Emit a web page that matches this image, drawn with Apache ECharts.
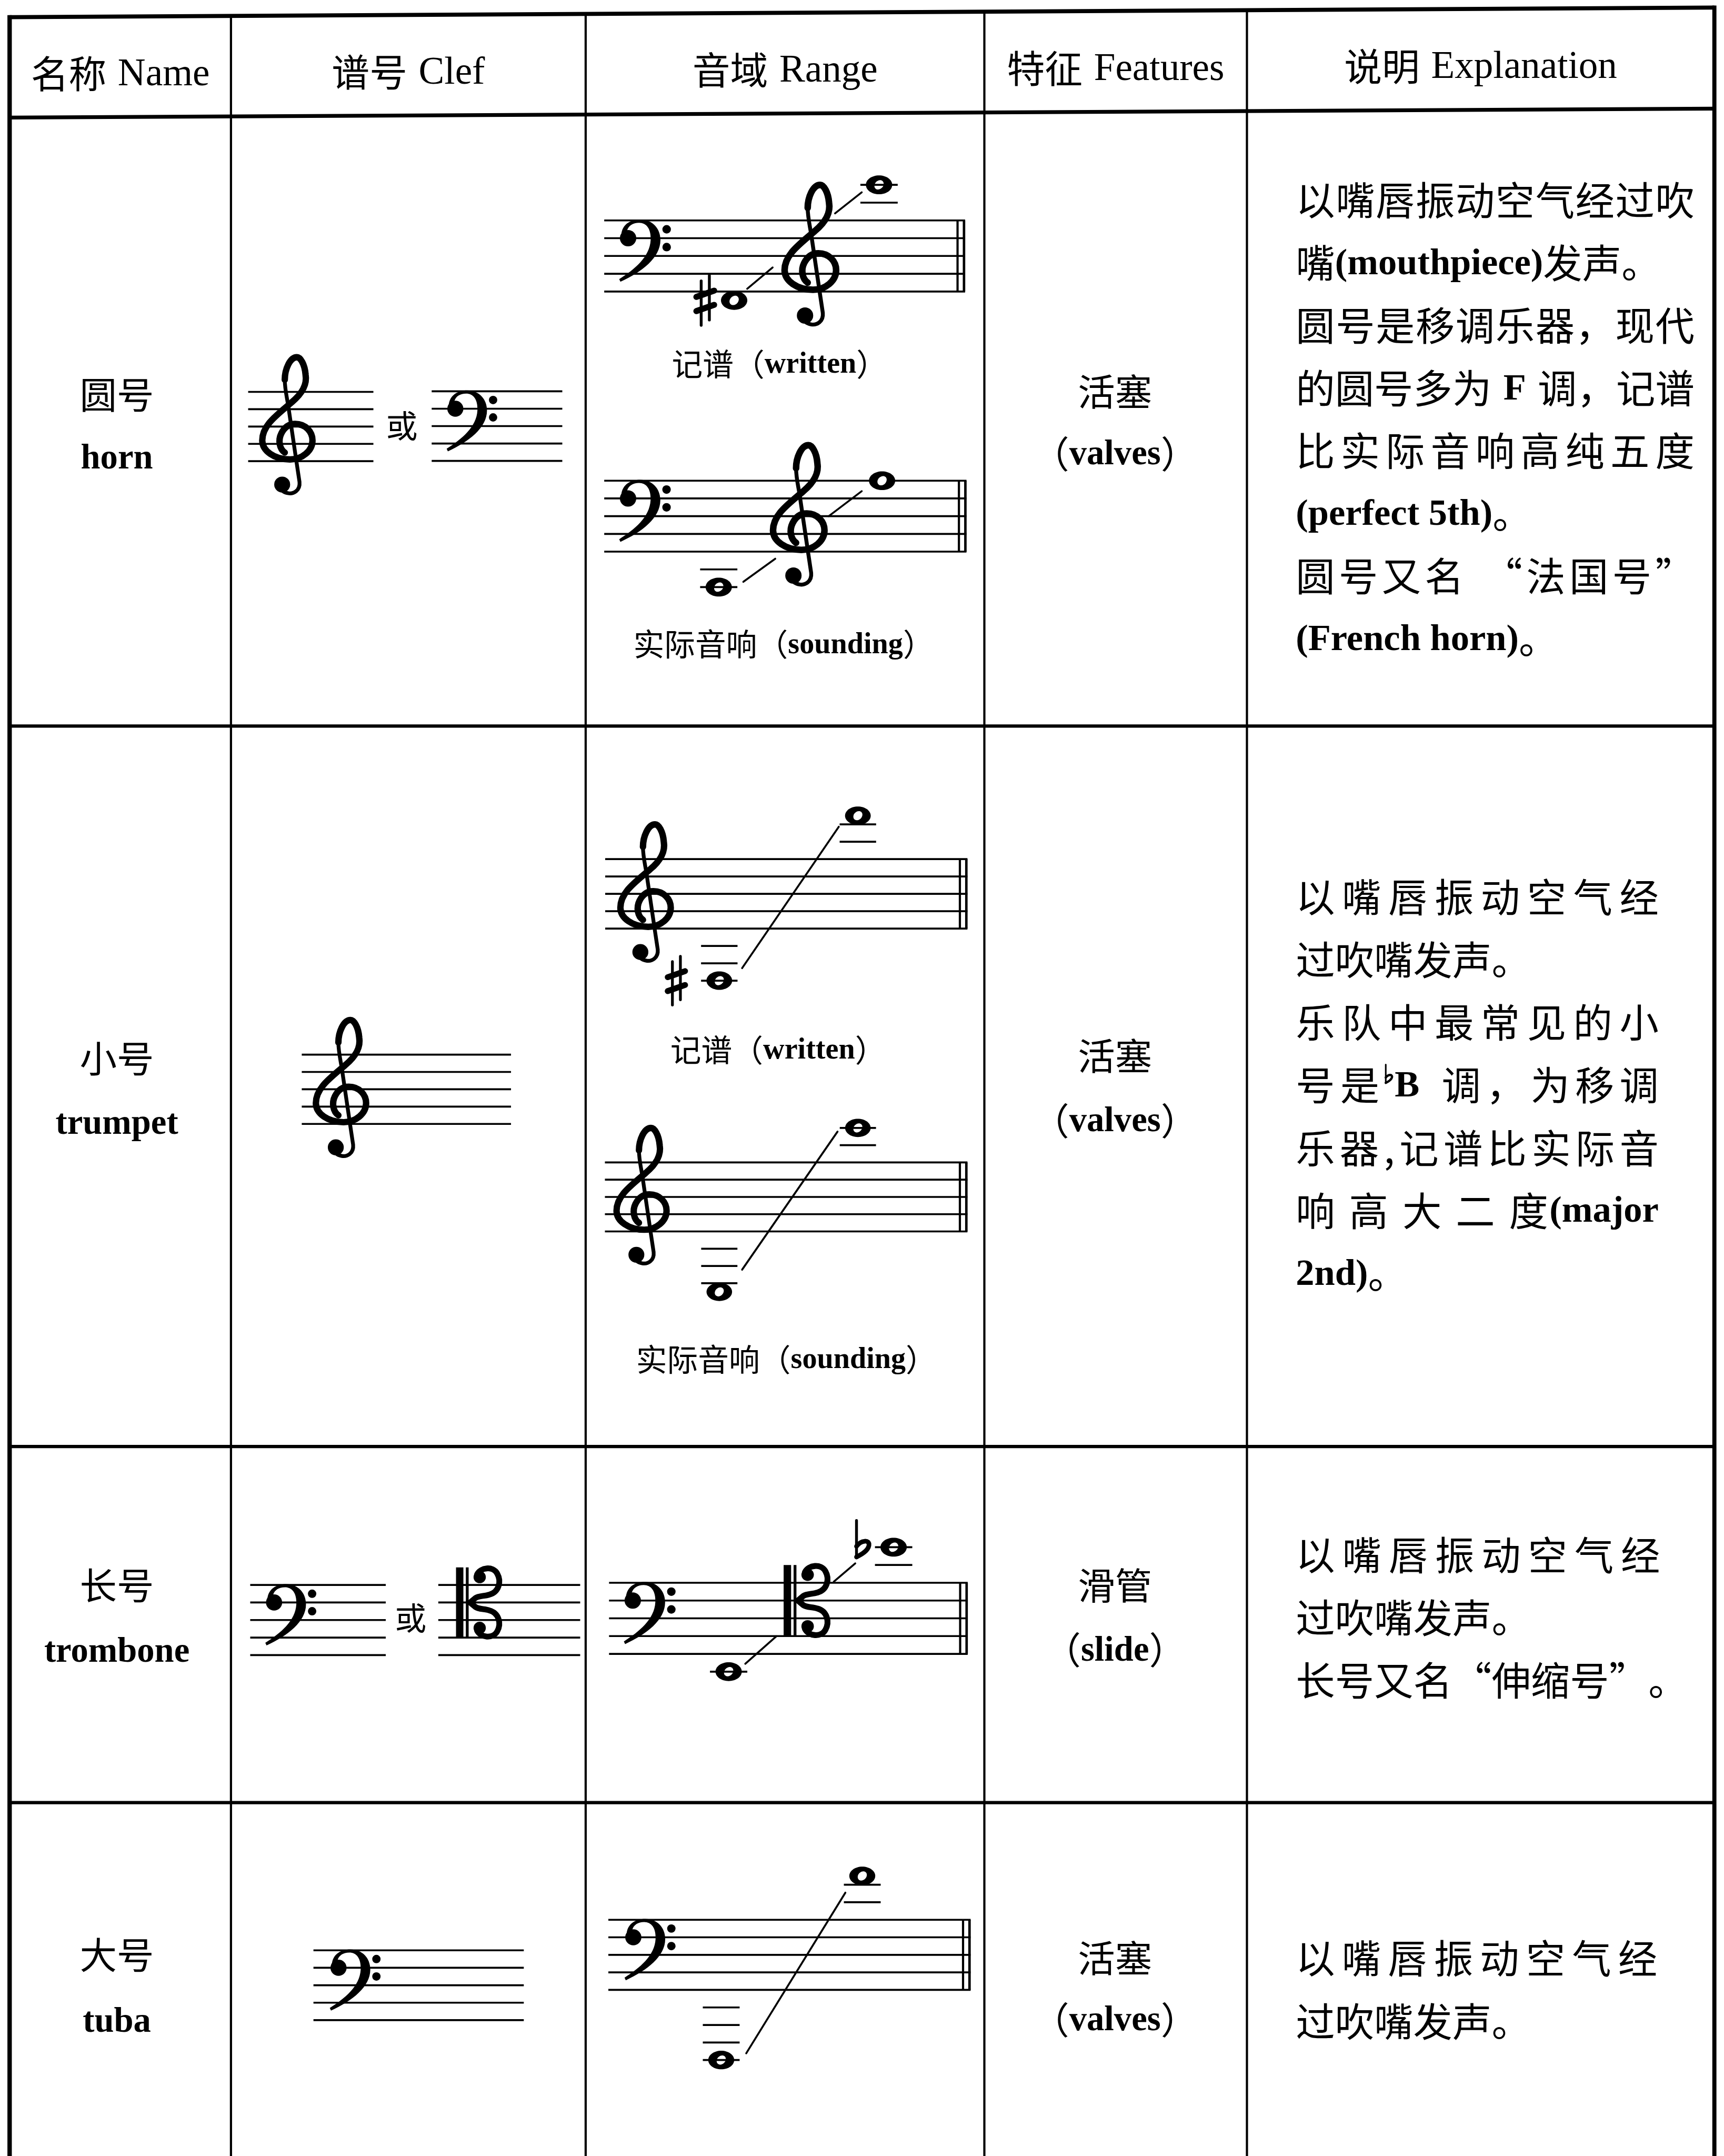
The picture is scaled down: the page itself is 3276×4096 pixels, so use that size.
<!DOCTYPE html>
<html>
<head>
<meta charset="utf-8">
<script src="https://cdn.jsdelivr.net/npm/echarts@6.0.0/dist/echarts.min.js"></script>
<style>
html,body{margin:0;padding:0;background:#ffffff;}
#chart{width:3276px;height:4096px;}
</style>
</head>
<body>
<div id="chart"></div>
<script>
// ======================= DATA =======================
const headerCN = ['名称', '谱号', '音域', '特征', '说明'];
const headerEN = ['Name', 'Clef', 'Range', 'Features', 'Explanation'];
const instrumentCN = ['圆号', '小号', '长号', '大号'];
const instrumentEN = ['horn', 'trumpet', 'trombone', 'tuba'];
const featureCN = ['活塞', '活塞', '滑管', '活塞'];
const featureEN = ['valves', 'valves', 'slide', 'valves'];
const orWord = '或';
const clefSets = [['treble', 'bass'], ['treble'], ['bass', 'tenor'], ['bass']];
const rangeLabelCN = ['记谱', '实际音响'];
const rangeLabelEN = ['written', 'sounding'];
const explanationHorn = [
  ['以嘴唇振动空气经过吹', '嘴(mouthpiece)发声。'],
  ['圆号是移调乐器，现代', '的圆号多为 F 调，记谱', '比实际音响高纯五度', '(perfect 5th)。'],
  ['圆号又名 “法国号”', '(French horn)。']
];
const explanationTrumpet = [
  ['以嘴唇振动空气经', '过吹嘴发声。'],
  ['乐队中最常见的小', '号是♭B 调，为移调', '乐器,记谱比实际音', '响 高 大 二 度(major', '2nd)。']
];
const explanationTrombone = [
  ['以嘴唇振动空气经', '过吹嘴发声。'],
  ['长号又名“伸缩号”。']
];
const explanationTuba = [
  ['以嘴唇振动空气经', '过吹嘴发声。']
];
const explanations = [explanationHorn, explanationTrumpet, explanationTrombone, explanationTuba];

// Range notation: staff step = half staff-spaces below the top staff line
const rangeRow   = [0, 0, 1, 1, 2, 3];
const rangeLabel = [0, 1, 0, 1, -1, -1];
const rangeClefs = [['bass', 'treble'], ['bass', 'treble'], ['treble'], ['treble'], ['bass', 'tenor'], ['bass']];
const lowStep    = [9, 12, 14, 15, 10, 16];
const lowAcc     = ['sharp', '', 'sharp', '', '', ''];
const highStep   = [-4, 0, -5, -4, -4, -5];
const highAcc    = ['', '', '', '', 'flat', ''];

// ======================= LAYOUT (reference units, 1254 x 1568 page) =======================
const PAGE_W = 1254, PAGE_H = 1568;
const COLS = [7, 168, 426, 716, 907, 1247];
const ROW_LINES = [528, 1052, 1311];
const topY = x => 12.5 - (x - 7) * 7 / 1240;
const hdrY = x => 85.5 - (x - 7) * 6.5 / 1240;
const NAME_X = 85, FEAT_X = 811;
const NAME_Y = [[287, 333], [770, 817], [1153, 1201], [1422, 1470]];
const FEAT_Y = [[285, 330], [768, 815], [1153, 1200], [1424, 1469]];
const EXPL_X = 942.5, EXPL_W = [290, 264, 265, 263], EXPL_Y0 = [145.6, 652.6, 1131, 1424.5], EXPL_DY = 45.6;
const CLEF_STAVES = [
  [{x0: 180.5, x1: 271.6, top: 285, sp: 12.6, cx: 189.5}, {x0: 314, x1: 409, top: 284.6, sp: 12.65, cx: 324.5}],
  [{x0: 219.5, x1: 371.7, top: 767, sp: 12.6, cx: 228.5}],
  [{x0: 182, x1: 280.6, top: 1152.7, sp: 12.75, cx: 192.6}, {x0: 318.8, x1: 422, top: 1152.7, sp: 12.75, cx: 331.7}],
  [{x0: 228, x1: 381, top: 1418.4, sp: 12.7, cx: 239.5}]
];
const OR_POS = [[292.3, 309.7], null, [298.7, 1176.8], null];
const RANGE_STAVES = [
  {x0: 439.5, x1: 702, top: 160.3, sp: 12.93, clefX: [450, 569.4], lowX: 534, accX: 513, highX: 639.4,
   gliss: [[543.5, 7.69, 562, 5.29], [607.4, -0.79, 626.8, -3.16]], label: [567, 264.6]},
  {x0: 439.5, x1: 703, top: 349.6, sp: 12.9, clefX: [450, 561], lowX: 522.8, highX: 641.6,
   gliss: [[540.7, 11.4, 563.9, 8.8], [602.8, 4.0, 626.8, 1.18]], label: [570, 468.5]},
  {x0: 440.2, x1: 703.7, top: 624.8, sp: 12.63, clefX: [450], lowX: 523.2, accX: 492, highX: 624,
   gliss: [[539.8, 12.56, 610.1, -3.72]], label: [566, 763.4]},
  {x0: 440, x1: 703.7, top: 845.4, sp: 12.55, clefX: [447.2], lowX: 523.2, highX: 624,
   gliss: [[539.8, 12.43, 609.2, -3.57]], label: [572, 988.6]},
  {x0: 443, x1: 703.9, top: 1151.1, sp: 12.93, clefX: [453.4, 570], lowX: 530, highX: 650, accX: 623,
   gliss: [[542.1, 9.11, 564.7, 6.02], [606.5, -0.12, 622.1, -2.18]]},
  {x0: 442.5, x1: 706, top: 1396.2, sp: 12.75, clefX: [453.9], lowX: 524.6, highX: 627.2,
   gliss: [[542.8, 15.23, 614.9, -3.09]]}
];

// ======================= GLYPHS (staff space = 10 units, top line y = 0) =======================
const TREBLE_BODY = 'M14,35 C11,33 10,28 12,24 C14,20 17,18.5 20,18.5 C26,18.5 30,23 30,28 C30,34 24,39 17,39 C8,39 1,34 1,28 C1,19 10,13 18,6 C24,1 27,-4 26,-10 C25.5,-16 23,-20 21,-20 C17,-20 14,-13 14,-7';
const TREBLE_STEM = 'M14,-7 C14,-2 15,2 16,8 L21,42 L22.5,52 C23,57 19,59 16,58.5 C13,58 11,56 11,54';
const BASS_BODY = 'M1.5,8 C2,2 7,-0.5 12,-0.5 C19,-0.5 23.5,4.5 23.5,11 C23.5,21 13,29 1,34.5 L0.3,33 C9,27.5 17.5,20.5 18,11 C18.3,4.5 15.5,1.3 11.5,1.3 C8,1.3 5.5,3 4.8,5.5 Z';
const TENOR_CURVE = 'M12,-6 C14,-10 21,-11 23.5,-6.5 C26,-2 24.5,4 19,5.5 C16,6.5 13,6 11,7.5 L8,10 L11,12.5 C13,14 16,13.5 19,14.5 C24.5,16 26,22 23.5,26.5 C21,31 14,30 12,26';
const SHARP_STEMS = 'M-2.3,-11 L-2.3,14 M2.3,-14 L2.3,11';
const SHARP_BARS = 'M-5,-2 L5,-5.5 M-5,6 L5,2.5';
const FLAT_STEM = 'M0,-15 L0,5.5';
const FLAT_BOWL = 'M0,-0.5 C2.5,-4 7.5,-4.5 7,-1 C6.5,2 3,4 0,5.5';

// ======================= BUILD MARKS =======================
const W = 3276, H = 4096;
const K = W / PAGE_W;
const CJK = {w: 'normal', fam: '"Noto Sans CJK SC", sans-serif'};
const LAT = {w: 'bold', fam: '"Liberation Serif", "DejaVu Serif", serif'};
const LAT_N = {w: 'normal', fam: '"Liberation Serif", "DejaVu Serif", serif'};
const fontOf = (f, px) => f.w + ' ' + px.toFixed(2) + 'px ' + f.fam;
const mctx = document.createElement('canvas').getContext('2d');
function measure(t, f, size) { mctx.font = fontOf(f, size * K); return mctx.measureText(t).width / K; }

const marks = [];
function line(x, y, x2, y2, lw, cap) { marks.push({kind: 'line', x, y, x2, y2, lw, cap}); }
function text(x, y, t, f, size) { marks.push({kind: 'text', x, y, text: t, f, size}); }
function glyph(x, y, d, s, lw, fill) { marks.push({kind: 'path', x, y, d, s, lw, fill}); }
function circle(x, y, r) { marks.push({kind: 'circle', x, y, r}); }
function ellipse(x, y, rx, ry, rot, color) { marks.push({kind: 'ellipse', x, y, rx, ry, rot, color}); }
function rect(x, y, x2, y2) { marks.push({kind: 'rect', x, y, x2, y2}); }

function layoutLine(str, x, y, o) {
  const latF = o.latF || LAT;
  const toks = str.match(/♭?[A-Za-z0-9().]+(?: [A-Za-z0-9().]+)*|./g);
  const items = toks.map(t => {
    if (t === ' ') return {t, w: 0.3 * o.cjk, kind: 'sp'};
    if (/[A-Za-z0-9()]/.test(t)) {
      if (t[0] === '♭') {
        const r = t.slice(1), fw = 0.27 * o.lat;
        return {t: r, w: fw + measure(r, latF, o.lat), kind: 'flat', fw};
      }
      return {t, w: measure(t, latF, o.lat), kind: 'lat'};
    }
    return {t, w: measure(t, CJK, o.cjk), kind: 'cjk'};
  });
  const natural = items.reduce((a, b) => a + b.w, 0);
  const gap = (o.width && items.length > 1) ? (o.width - natural) / (items.length - 1) : 0;
  let cx = o.align === 'center' ? x - natural / 2 : x;
  items.forEach(it => {
    if (it.kind === 'cjk') text(cx, y, it.t, CJK, o.cjk);
    else if (it.kind === 'lat') text(cx, y + 0.04 * o.lat, it.t, latF, o.lat);
    else if (it.kind === 'flat') {
      const s = 0.024 * o.lat, yc = y - 0.2 * o.lat;
      glyph(cx + 0.03 * o.lat, yc, FLAT_STEM, s, 1.8, false);
      glyph(cx + 0.03 * o.lat, yc, FLAT_BOWL, s, 2.6, false);
      text(cx + it.fw, y + 0.04 * o.lat, it.t, latF, o.lat);
    }
    cx += it.w + gap;
  });
}

function staffLines(st) {
  for (let i = 0; i < 5; i++) line(st.x0, st.top + i * st.sp, st.x1, st.top + i * st.sp, 1.4);
}
function drawClef(type, x, top, sp) {
  const s = sp / 10;
  if (type === 'treble') {
    glyph(x, top, TREBLE_BODY, s, 3.7, false);
    glyph(x, top, TREBLE_STEM, s, 2.2, false);
    circle(x + 12.5 * s, top + 53.5 * s, 4.6 * s);
  } else if (type === 'bass') {
    glyph(x, top, BASS_BODY, s, 0, true);
    circle(x + 5.3 * s, top + 10 * s, 4.6 * s);
    circle(x + 27 * s, top + 5 * s, 2.4 * s);
    circle(x + 27 * s, top + 15 * s, 2.4 * s);
  } else if (type === 'tenor') {
    rect(x, top - 10 * s, x + 4.2 * s, top + 30 * s);
    rect(x + 5.6 * s, top - 10 * s, x + 7.2 * s, top + 30 * s);
    glyph(x, top, TENOR_CURVE, s, 3.3, false);
    circle(x + 13.5 * s, top - 4.5 * s, 3.5 * s);
    circle(x + 13.5 * s, top + 24.5 * s, 3.5 * s);
  }
}
function stepY(st, step) { return st.top + step * st.sp / 2; }
function wholeNote(st, x, step) {
  const s = st.sp / 10, y = stepY(st, step);
  ellipse(x, y, 7.4 * s, 5.3 * s, 0, '#000');
  ellipse(x, y, 2.9 * s, 2.3 * s, 0.8, '#fff');
  if (step >= 10) for (let q = 10; q <= step; q += 2) line(x - 10.5 * s, stepY(st, q), x + 10.5 * s, stepY(st, q), 1.4);
  if (step <= -2) for (let q = -2; q >= step; q -= 2) line(x - 10.5 * s, stepY(st, q), x + 10.5 * s, stepY(st, q), 1.4);
}
function accidental(st, x, step, type) {
  const s = st.sp / 10, y = stepY(st, step);
  if (type === 'sharp') { glyph(x, y, SHARP_STEMS, s, 1.6, false); glyph(x, y, SHARP_BARS, s, 3.4, false); }
  if (type === 'flat') { glyph(x, y, FLAT_STEM, s, 1.6, false); glyph(x, y, FLAT_BOWL, s, 2.6, false); }
}

// ---- table grid ----
line(7, topY(7), 1247, topY(1247), 3);
line(7, hdrY(7), 1247, hdrY(1247), 2.8);
ROW_LINES.forEach(y => line(7, y, 1247, y, 2.4));
line(7, topY(7) - 1.5, 7, PAGE_H, 3.2);
line(1247, topY(1247) - 1.5, 1247, PAGE_H, 3);
[168, 426, 716, 907].forEach(x => line(x, topY(x), x, PAGE_H, 1.6));

// ---- header ----
for (let i = 0; i < 5; i++) {
  const cx = (COLS[i] + COLS[i + 1]) / 2;
  const y = (topY(cx) + hdrY(cx)) / 2 + 5;
  layoutLine(headerCN[i] + ' ' + headerEN[i], cx, y, {cjk: 27.5, lat: 28, latF: LAT_N, align: 'center'});
}

// ---- rows ----
for (let r = 0; r < 4; r++) {
  layoutLine(instrumentCN[r], NAME_X, NAME_Y[r][0], {cjk: 27, lat: 25.5, align: 'center'});
  layoutLine(instrumentEN[r], NAME_X, NAME_Y[r][1], {cjk: 27, lat: 25.5, align: 'center'});
  layoutLine(featureCN[r], FEAT_X, FEAT_Y[r][0], {cjk: 27, lat: 25.5, align: 'center'});
  layoutLine('（' + featureEN[r] + '）', FEAT_X, FEAT_Y[r][1], {cjk: 27, lat: 25.5, align: 'center'});
  let li = 0;
  explanations[r].forEach(par => par.forEach((ln, j) => {
    layoutLine(ln, EXPL_X, EXPL_Y0[r] + li * EXPL_DY, {cjk: 28.5, lat: 27, align: 'left', width: j < par.length - 1 ? EXPL_W[r] : 0});
    li++;
  }));
  CLEF_STAVES[r].forEach((st, i) => { staffLines(st); drawClef(clefSets[r][i], st.cx, st.top, st.sp); });
  if (OR_POS[r]) layoutLine(orWord, OR_POS[r][0], OR_POS[r][1], {cjk: 23, lat: 23, align: 'center'});
}

// ---- range notation ----
RANGE_STAVES.forEach((st, i) => {
  staffLines(st);
  line(st.x1 - 5.5, st.top, st.x1 - 5.5, st.top + 4 * st.sp, 1.6);
  line(st.x1 - 0.8, st.top, st.x1 - 0.8, st.top + 4 * st.sp, 1.8);
  rangeClefs[i].forEach((c, j) => drawClef(c, st.clefX[j], st.top, st.sp));
  wholeNote(st, st.lowX, lowStep[i]);
  wholeNote(st, st.highX, highStep[i]);
  if (lowAcc[i]) accidental(st, st.accX, lowStep[i], lowAcc[i]);
  if (highAcc[i]) accidental(st, st.accX, highStep[i], highAcc[i]);
  st.gliss.forEach(g => line(g[0], stepY(st, g[1]), g[2], stepY(st, g[3]), 1.4, 'round'));
  const l = rangeLabel[i];
  if (l >= 0) layoutLine(rangeLabelCN[l] + '（' + rangeLabelEN[l] + '）', st.label[0], st.label[1], {cjk: 22.5, lat: 21.5, align: 'center'});
});

// ======================= RENDER =======================
function renderItem(params, api) {
  const m = marks[params.dataIndex];
  const p = api.coord([api.value(0), api.value(1)]);
  const k = api.size([1, 1])[0];
  switch (m.kind) {
    case 'line': {
      const q = api.coord([m.x2, m.y2]);
      return {type: 'line', silent: true, shape: {x1: p[0], y1: p[1], x2: q[0], y2: q[1]},
        style: {stroke: '#000', lineWidth: m.lw * k, lineCap: m.cap || 'butt'}};
    }
    case 'text':
      return {type: 'text', silent: true, x: p[0], y: p[1],
        style: {text: m.text, font: fontOf(m.f, m.size * k), fill: '#000', align: 'left', verticalAlign: 'middle'}};
    case 'path':
      return {type: 'path', silent: true, x: p[0], y: p[1], scaleX: m.s * k, scaleY: m.s * k,
        shape: {pathData: m.d},
        style: m.fill ? {fill: '#000', stroke: 'none'} : {fill: 'none', stroke: '#000', lineWidth: m.lw, lineCap: 'round', lineJoin: 'round'}};
    case 'circle':
      return {type: 'circle', silent: true, shape: {cx: p[0], cy: p[1], r: m.r * k}, style: {fill: '#000'}};
    case 'ellipse':
      return {type: 'ellipse', silent: true, x: p[0], y: p[1], rotation: m.rot || 0,
        shape: {cx: 0, cy: 0, rx: m.rx * k, ry: m.ry * k}, style: {fill: m.color}};
    case 'rect': {
      const q = api.coord([m.x2, m.y2]);
      return {type: 'rect', silent: true, shape: {x: p[0], y: p[1], width: q[0] - p[0], height: q[1] - p[1]}, style: {fill: '#000'}};
    }
  }
  return null;
}

const chart = echarts.init(document.getElementById('chart'), null, {renderer: 'canvas', width: W, height: H});
chart.setOption({
  animation: false,
  backgroundColor: '#ffffff',
  grid: {left: 0, right: 0, top: 0, bottom: 0, containLabel: false},
  xAxis: {type: 'value', min: 0, max: PAGE_W, show: false},
  yAxis: {type: 'value', min: 0, max: PAGE_H, inverse: true, show: false},
  tooltip: {show: false},
  series: [{
    type: 'custom',
    coordinateSystem: 'cartesian2d',
    renderItem: renderItem,
    clip: false,
    progressive: 0,
    silent: true,
    data: marks.map(m => [m.x, m.y])
  }]
});
</script>
</body>
</html>
